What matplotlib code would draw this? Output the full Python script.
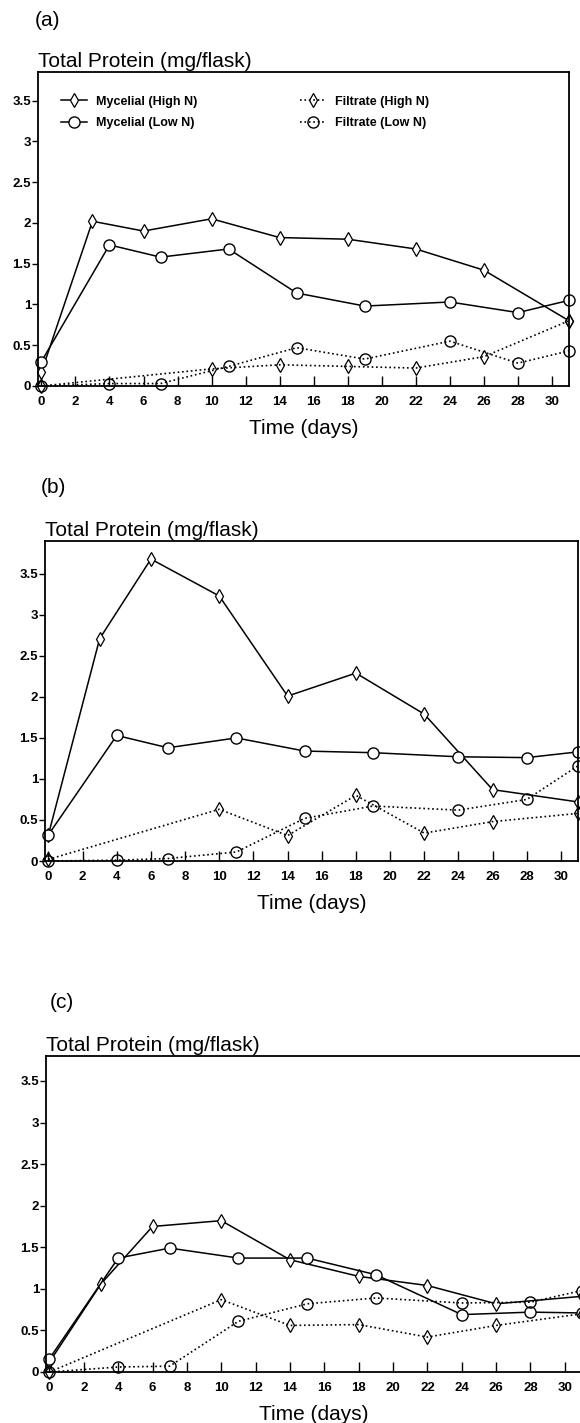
import matplotlib
matplotlib.use('Agg')
import matplotlib.pyplot as plt

plt.rcParams['font.family'] = ['Liberation Sans', 'DejaVu Sans']

# Dias de muestreo de cada serie
days_myc_high = [0, 3, 6, 10, 14, 18, 22, 26, 31]
days_myc_low = [0, 4, 7, 11, 15, 19, 24, 28, 31]
days_fil_high = [0, 10, 14, 18, 22, 26, 31]
days_fil_low = [0, 4, 7, 11, 15, 19, 24, 28, 31]

# Panel (a)
a_myc_high = [0.17, 2.02, 1.90, 2.05, 1.82, 1.80, 1.68, 1.42, 0.80]
a_myc_low = [0.30, 1.73, 1.58, 1.68, 1.14, 0.98, 1.03, 0.90, 1.05]
a_fil_high = [0.0, 0.21, 0.26, 0.24, 0.22, 0.36, 0.80]
a_fil_low = [0.0, 0.03, 0.03, 0.24, 0.47, 0.33, 0.55, 0.28, 0.43]

# Panel (b)
b_myc_high = [0.32, 2.71, 3.68, 3.23, 2.01, 2.29, 1.79, 0.87, 0.72]
b_myc_low = [0.32, 1.53, 1.38, 1.50, 1.34, 1.32, 1.27, 1.26, 1.33]
b_fil_high = [0.02, 0.63, 0.31, 0.80, 0.34, 0.48, 0.58]
b_fil_low = [0.0, 0.01, 0.03, 0.11, 0.52, 0.67, 0.62, 0.75, 1.16]

# Panel (c)
c_myc_high = [0.12, 1.06, 1.75, 1.82, 1.35, 1.15, 1.04, 0.82, 0.91]
c_myc_low = [0.16, 1.37, 1.49, 1.37, 1.37, 1.17, 0.69, 0.72, 0.71]
c_fil_high = [0.0, 0.87, 0.56, 0.57, 0.42, 0.56, 0.70]
c_fil_low = [0.0, 0.06, 0.07, 0.61, 0.82, 0.89, 0.83, 0.84, 0.98]

series_labels = ['Mycelial (High N)', 'Mycelial (Low N)',
                 'Filtrate (High N)', 'Filtrate (Low N)']
y_ticks = [0, 0.5, 1, 1.5, 2, 2.5, 3, 3.5]
y_ticklabels = ['0', '0.5', '1', '1.5', '2', '2.5', '3', '3.5']
x_ticks = list(range(0, 31, 2))

W, H = 580, 1423
fig = plt.figure(figsize=(W / 100, H / 100), dpi=100)

# cajas de los ejes en pixeles: izquierda, derecha, abajo, arriba
panels = [
    ('(a)', (38, 569, 386, 72), 3.85, (35, 20),
     a_myc_high, a_myc_low, a_fil_high, a_fil_low),
    ('(b)', (45, 578, 861, 541), 3.9, (41, 487),
     b_myc_high, b_myc_low, b_fil_high, b_fil_low),
    ('(c)', (46, 582, 1372, 1056), 3.8, (50, 1002),
     c_myc_high, c_myc_low, c_fil_high, c_fil_low),
]

for i, (tag, box, ytop, tagpos, mh, ml, fh, fl) in enumerate(panels):
    l, r, b, t = box
    ax = fig.add_axes([l / W, 1 - b / H, (r - l) / W, (b - t) / H])

    ax.plot(days_myc_high, mh, '-', color='black', lw=1.1, marker='d',
            ms=7, mfc='white', mec='black', mew=0.9, label=series_labels[0],
            clip_on=False)
    ax.plot(days_myc_low, ml, '-', color='black', lw=1.1, marker='o',
            ms=8, mfc='white', mec='black', mew=1.0, label=series_labels[1],
            clip_on=False)
    ax.plot(days_fil_high, fh, ':', color='black', lw=1.2, marker='d',
            ms=7, mfc='none', mec='black', mew=0.9, label=series_labels[2],
            clip_on=False)
    ax.plot(days_fil_low, fl, ':', color='black', lw=1.2, marker='o',
            ms=8, mfc='none', mec='black', mew=1.0, label=series_labels[3],
            clip_on=False)

    ax.set_xlim(-0.2, 31)
    ax.set_ylim(0, ytop)
    ax.set_yticks(y_ticks)
    ax.set_yticklabels(y_ticklabels)
    ax.set_xticks(x_ticks)
    ax.tick_params(axis='y', direction='out', length=4, width=1, pad=1,
                   labelsize=9.5)
    ax.tick_params(axis='x', direction='in', length=7, width=1, pad=7,
                   labelsize=9.5)
    for lab in ax.get_xticklabels() + ax.get_yticklabels():
        lab.set_fontweight('bold')
    for sp in ax.spines.values():
        sp.set_linewidth(1.3)

    ax.set_xlabel('Time (days)', fontsize=15, labelpad=8)
    ax.text(0, 1.002, 'Total Protein (mg/flask)', transform=ax.transAxes,
            ha='left', va='bottom', fontsize=15)
    fig.text(tagpos[0] / W, 1 - tagpos[1] / H, tag, ha='left', va='center',
             fontsize=15)

    if i == 0:
        ax.legend(loc='upper left', bbox_to_anchor=(0.034, 0.94), ncol=2,
                  frameon=False, numpoints=1, handlelength=2.1,
                  handletextpad=0.7, columnspacing=8.2, labelspacing=0.75,
                  borderaxespad=0, prop={'size': 9, 'weight': 'bold'})

fig.savefig('out.png', dpi=100)
